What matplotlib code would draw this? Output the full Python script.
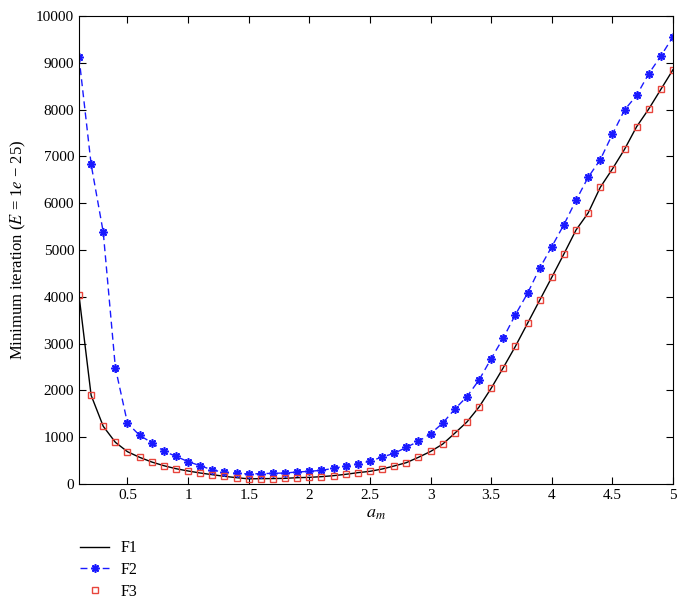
import matplotlib
matplotlib.use('Agg')
import matplotlib.pyplot as plt
import numpy as np

plt.rcParams['font.family'] = ['Liberation Serif', 'DejaVu Serif']
plt.rcParams['mathtext.fontset'] = 'stix'

# a_m values 0.1 .. 5.0
a_m = [round(0.1 * i, 1) for i in range(1, 51)]

f2 = [9120, 6830, 5380, 2485, 1300, 1040, 883, 700, 592, 477,
      391, 299, 250, 228, 214, 221, 228, 235, 256, 271,
      292, 335, 385, 434, 484, 577, 655, 783, 912, 1070,
      1300, 1600, 1866, 2222, 2678, 3120, 3618, 4074, 4609, 5071,
      5541, 6062, 6553, 6930, 7472, 7991, 8305, 8767, 9145, 9558]

f3 = [4030, 1895, 1233, 891, 690, 570, 470, 391, 327, 278,
      235, 199, 164, 135, 110, 114, 116, 121, 135, 142,
      157, 178, 207, 242, 271, 320, 385, 456, 570, 695,
      852, 1085, 1325, 1645, 2045, 2486, 2942, 3433, 3925, 4416,
      4915, 5427, 5791, 6339, 6731, 7151, 7635, 8013, 8433, 8853]

f1 = list(f3)

xticks = [0.5, 1, 1.5, 2, 2.5, 3, 3.5, 4, 4.5, 5]
xtick_labels = ['0.5', '1', '1.5', '2', '2.5', '3', '3.5', '4', '4.5', '5']
yticks = list(range(0, 10001, 1000))

fig = plt.figure(figsize=(6.87, 6.05), dpi=100)
ax = fig.add_axes([79 / 687, 1 - 484 / 605, 594 / 687, 468 / 605])

ax.plot(a_m, f1, color='black', lw=1.0, label='F1')
ax.plot(a_m, f2, color='#1a1aff', lw=1.0, ls=(0, (5, 3)), marker=(8, 2, 0),
        ms=6, mew=1.2, label='F2')
ax.plot(a_m, f3, ls='none', marker='s', ms=5, mfc='none', mec='#e8453c',
        mew=1.0, label='F3')

ax.set_xlim(0.1, 5)
ax.set_ylim(0, 10000)
ax.set_xticks(xticks)
ax.set_xticklabels(xtick_labels)
ax.set_yticks(yticks)
ax.tick_params(direction='in', top=True, right=True, labelsize=11, length=5, width=0.8)
for s in ax.spines.values():
    s.set_linewidth(0.8)

ax.set_xlabel('$a_m$', fontsize=13, labelpad=2)
ax.set_ylabel('Minimum iteration ($E$ = 1$e$ − 25)', fontsize=12, labelpad=6)

fig.legend(loc='upper left', bbox_to_anchor=(66 / 687, 1 - 526 / 605), frameon=False,
           fontsize=11.5, handlelength=1.8, numpoints=1, labelspacing=0.35, handletextpad=0.7)

fig.savefig('out.png', dpi=100)
